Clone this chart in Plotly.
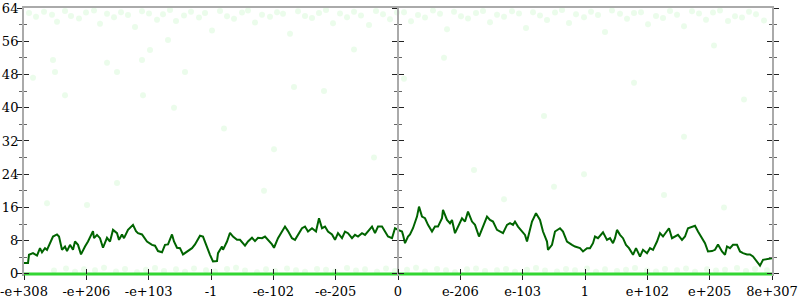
import plotly.graph_objects as go

N_BINS = 748
tick_labels = ["-e+308", "-e+206", "-e+103", "-1", "-e-102", "-e-205", "0",
               "e-206", "e-103", "1", "e+102", "e+205", "8e+307"]
tick_vals = [i * N_BINS / 12 for i in range(13)]

# main dark-green walk (bin index, value)
line_x = [0, 4, 5, 9, 13, 16, 18, 21, 23, 26, 29, 33, 35, 38, 41, 43, 46, 49, 51, 54, 57, 61, 64, 69, 70, 73, 76, 79, 83, 86,
          89, 93, 95, 98, 100, 104, 109, 112, 114, 118, 123, 128, 131, 134, 138, 141, 144, 148, 150, 153, 156, 159, 163, 168,
          171, 176, 179, 183, 186, 189, 193, 194, 198, 199, 203, 206, 209, 213, 216, 221, 224, 228, 231, 234, 238, 241, 244,
          248, 250, 254, 258, 261, 264, 268, 271, 274, 278, 281, 284, 288, 292, 295, 298, 301, 304, 308, 311, 314, 318, 321,
          324, 328, 331, 334, 338, 341, 344, 348, 351, 354, 358, 361, 364, 368, 371, 374, 378, 379, 381, 384, 386, 389, 393,
          395, 398, 401, 404, 408, 411, 414, 418, 419, 423, 426, 428, 431, 434, 438, 441, 444, 448, 451, 455, 459, 463, 466,
          469, 473, 476, 479, 483, 486, 489, 491, 494, 498, 501, 503, 508, 512, 516, 519, 523, 524, 528, 531, 536, 539, 543,
          548, 551, 556, 559, 563, 566, 569, 571, 574, 579, 583, 586, 589, 591, 593, 596, 599, 602, 605, 609, 612, 616, 619,
          623, 626, 629, 633, 636, 639, 645, 648, 651, 654, 658, 661, 664, 668, 671, 674, 678, 681, 684, 688, 691, 694, 698,
          701, 703, 706, 709, 713, 716, 719, 723, 726, 729, 733, 736, 739, 743, 748]
line_y = [2.6, 2.6, 4.6, 5.0, 4.4, 6.2, 5.2, 6.2, 5.8, 7.4, 9.0, 9.5, 9.0, 5.8, 6.6, 5.5, 7.0, 5.8, 7.8, 7.0, 4.7, 6.6, 7.8,
          10.3, 8.6, 9.4, 8.6, 6.3, 8.7, 7.8, 10.6, 9.8, 8.2, 9.5, 8.6, 10.6, 11.8, 10.3, 9.8, 9.5, 7.8, 7.0, 6.8, 5.5, 5.2,
          7.0, 7.1, 9.5, 7.8, 6.3, 6.2, 4.7, 5.4, 6.2, 7.1, 9.2, 9.0, 6.2, 4.6, 3.0, 3.1, 5.0, 6.6, 5.8, 7.8, 9.9, 9.0, 8.2,
          8.2, 6.8, 7.8, 8.7, 7.9, 8.7, 8.6, 9.0, 8.2, 7.1, 6.3, 8.6, 10.2, 11.4, 10.3, 8.6, 8.2, 9.4, 11.0, 11.4, 10.2,
          11.0, 10.2, 13.4, 11.0, 11.4, 10.2, 9.5, 8.2, 9.8, 8.6, 10.2, 9.8, 8.6, 9.4, 9.0, 9.8, 9.4, 10.2, 11.4, 9.8, 11.4,
          11.4, 10.2, 9.0, 8.6, 11.0, 10.6, 10.2, 9.4, 7.4, 9.0, 9.5, 11.0, 13.8, 16.2, 13.8, 13.4, 11.8, 10.2, 11.4, 11.4,
          13.4, 15.4, 13.0, 12.2, 13.0, 9.8, 11.4, 13.4, 12.6, 15.0, 12.6, 11.8, 9.0, 11.4, 13.8, 13.0, 12.6, 10.6, 10.2,
          9.8, 11.8, 12.2, 11.8, 12.6, 11.4, 10.2, 9.4, 7.8, 12.6, 14.6, 13.0, 10.2, 7.8, 5.8, 7.0, 10.2, 11.0, 10.2, 7.8,
          7.0, 6.6, 6.2, 5.4, 6.2, 6.2, 7.4, 9.0, 8.6, 10.0, 8.2, 8.6, 7.4, 8.6, 10.6, 9.4, 8.6, 7.0, 6.2, 4.6, 6.2, 4.2,
          5.8, 5.0, 6.2, 5.8, 7.8, 9.8, 9.0, 11.0, 8.6, 9.0, 9.4, 8.2, 9.0, 11.0, 11.4, 11.6, 10.2, 8.6, 7.4, 5.4, 5.5, 5.8,
          7.1, 5.4, 4.6, 6.6, 6.2, 7.0, 7.0, 5.4, 5.0, 4.7, 4.7, 4.2, 3.0, 2.0, 3.4, 3.6, 3.8]

# flat bright-green series
base_x = [0, N_BINS]
base_y = [0, 0]

# faint scattered samples
top_x = [5, 12, 20, 28, 33, 41, 47, 55, 62, 70, 76, 83, 90, 97, 104, 111, 118, 125, 133, 139, 146, 152, 160, 167, 175,
         181, 188, 196, 203, 210, 218, 224, 231, 238, 246, 253, 259, 266, 274, 281, 288, 295, 302, 309, 316, 323, 330,
         337, 345, 352, 359, 366, 373, 380, 387, 394, 401, 409, 416, 423, 430, 437, 444, 452, 459, 466, 473, 480, 488,
         495, 502, 509, 516, 523, 531, 538, 545, 552, 560, 567, 574, 581, 588, 596, 603, 610, 617, 624, 632, 639, 646,
         653, 660, 668, 675, 682, 689, 696, 704, 711, 718, 725, 732, 740]
top_y = [62.8, 61.9, 63.1, 62.4, 60.7, 63.3, 62.1, 61.5, 62.9, 63.4, 60.2, 62.6, 61.8, 63.0, 62.3, 59.4, 63.2, 62.7,
         61.2, 62.5, 63.5, 60.9, 62.2, 63.1, 61.7, 62.8, 58.6, 63.3, 62.0, 61.4, 62.9, 63.4, 60.5, 62.4, 61.9, 63.0,
         62.6, 57.8, 63.2, 62.1, 61.6, 62.8, 63.5, 60.3, 62.7, 61.8, 63.1, 62.2, 59.9, 63.3, 62.5, 61.3, 62.9, 63.0,
         60.8, 62.3, 61.7, 63.4, 62.6, 58.9, 63.1, 62.0, 61.5, 62.8, 63.3, 60.6, 62.4, 61.9, 63.2, 62.7, 59.2, 63.0,
         62.2, 61.1, 62.9, 63.5, 60.4, 62.5, 61.8, 63.1, 62.3, 58.2, 63.4, 62.6, 61.4, 62.8, 63.0, 60.1, 62.1, 61.6,
         63.3, 62.4, 59.6, 63.2, 62.7, 61.2, 62.9, 63.4, 60.9, 62.0, 61.7, 63.1, 62.5, 61.0]
bottom_x = [30, 42, 51, 60, 71, 80, 92, 101, 113, 122, 131, 140, 152, 161, 170, 182, 191, 203, 212, 221, 233, 242, 251,
            263, 272, 281, 293, 302, 311, 323, 332, 341, 353, 362, 371, 383, 392, 401, 413, 422, 431, 443, 452, 461,
            473, 482, 491, 503, 512, 521, 533, 542, 551, 563, 572, 581, 593, 602, 611, 623, 632, 641, 653, 662, 671,
            683, 692, 701, 713, 722, 731, 743]
bottom_y = [0.8, 1.3, 0.5, 1.1, 0.9, 1.5, 0.6, 1.2, 0.4, 1.0, 1.4, 0.7, 1.1, 0.5, 1.3, 0.9, 0.6, 1.2, 1.5, 0.8, 0.4,
            1.1, 0.7, 1.3, 0.9, 0.5, 1.2, 1.0, 0.6, 1.4, 0.8, 1.1, 0.5, 1.3, 0.7, 1.0, 1.5, 0.6, 1.2, 0.9, 0.4, 1.1,
            1.3, 0.7, 0.9, 1.2, 0.5, 1.0, 1.4, 0.8, 0.6, 1.2, 0.9, 1.3, 0.5, 1.1, 0.7, 1.0, 1.4, 0.8, 0.6, 1.2, 0.9,
            1.3, 0.5, 1.1, 0.8, 1.0, 1.4, 0.7, 1.2, 0.9]
mid_x = [29, 31, 9, 41, 83, 93, 118, 119, 126, 144, 161, 23, 63, 93, 200, 240, 300, 350, 420, 480, 520, 560, 610, 640,
         690, 720, 250, 150, 330, 450, 380, 660, 700, 270, 530]
mid_y = [51.5, 48.6, 47.2, 43.0, 50.8, 48.6, 51.5, 43.0, 53.9, 56.3, 48.6, 17.0, 16.6, 21.9, 35, 20, 44, 28, 52, 18,
         38, 24, 46, 19, 55, 42, 30, 40, 54, 25, 47, 33, 16, 45, 21]

FONT = dict(family="DejaVu Serif", size=13, color="black")
AXIS_GRAY = "#aaaaaa"
TICK_DARK = "#222222"
MINOR = "#666666"

Y_MIN, Y_MAX = -0.5, 64          # small pad below zero so the zero series is not clipped
X_POS = (0 - Y_MIN) / (Y_MAX - Y_MIN)   # x axis sits at y = 0

fig = go.Figure()
fig.add_trace(go.Scatter(
    x=top_x + bottom_x + mid_x, y=top_y + bottom_y + mid_y, mode="markers",
    marker=dict(size=6, color="rgba(60,225,60,0.1)", line=dict(width=0)),
    hoverinfo="skip", cliponaxis=False))
fig.add_trace(go.Scatter(x=base_x, y=base_y, mode="lines",
                         line=dict(color="#33d633", width=3)))
fig.add_trace(go.Scatter(x=line_x, y=line_y, mode="lines",
                         line=dict(color="#006400", width=2)))

# invisible anchor traces so the overlaying tick axes are drawn
for xa, ya in [("x2", "y"), ("x3", "y"), ("x", "y2"), ("x", "y3"), ("x", "y4"), ("x", "y5"), ("x", "y6")]:
    fig.add_trace(go.Scatter(x=base_x, y=base_y, xaxis=xa, yaxis=ya, mode="lines",
                             line=dict(width=0, color="rgba(0,0,0,0)"), hoverinfo="skip"))

common_y = dict(range=[Y_MIN, Y_MAX], dtick=8, tick0=0, showgrid=False, zeroline=False, ticklen=5,
                tickcolor=TICK_DARK, tickwidth=1, automargin=False)


def ytick_axis(ticks, side, position=None, line=False, labels=False):
    d = dict(common_y, ticks=ticks, side=side, overlaying="y",
             showticklabels=labels, showline=line, linecolor=AXIS_GRAY, linewidth=2,
             minor=dict(dtick=4, tick0=0, ticks=ticks, ticklen=3, tickcolor=MINOR, showgrid=False))
    if position is None:
        d["anchor"] = "x"
    else:
        d["anchor"] = "free"
        d["position"] = position
    return d


fig.update_layout(
    width=800, height=300,
    margin=dict(l=24, r=28, t=8, b=24, pad=0, autoexpand=False),
    paper_bgcolor="white", plot_bgcolor="white",
    showlegend=False,
    font=FONT,
    xaxis=dict(range=[0, N_BINS], tickvals=tick_vals, ticktext=tick_labels, ticks="outside",
               ticklen=5, tickcolor=TICK_DARK, showline=True, linecolor=AXIS_GRAY, linewidth=2,
               anchor="free", position=X_POS, side="bottom",
               showgrid=False, zeroline=False, tickfont=FONT, automargin=False,
               layer="below traces"),
    xaxis2=dict(range=[0, N_BINS], tickvals=tick_vals, overlaying="x", anchor="free",
                position=X_POS, side="bottom",
                ticks="inside", ticklen=5, tickcolor=TICK_DARK, showticklabels=False,
                showline=False, showgrid=False, zeroline=False, automargin=False),
    xaxis3=dict(range=[0, N_BINS], overlaying="x", anchor="y", side="top", ticks="",
                showticklabels=False, showline=True, linecolor=AXIS_GRAY, linewidth=2,
                showgrid=False, zeroline=False, automargin=False),
    yaxis=dict(common_y, ticks="outside", side="left", showline=True, linecolor=AXIS_GRAY,
               linewidth=2, tickfont=FONT, ticklabelstandoff=-4,
               minor=dict(dtick=4, tick0=0, ticks="outside", ticklen=3, tickcolor=MINOR, showgrid=False)),
    yaxis2=ytick_axis("inside", "left"),
    yaxis3=ytick_axis("outside", "left", position=0.5, line=True),
    yaxis4=ytick_axis("inside", "left", position=0.5),
    yaxis5=ytick_axis("outside", "right", line=True),
    yaxis6=ytick_axis("inside", "right"),
)

fig.write_html("out.html")
